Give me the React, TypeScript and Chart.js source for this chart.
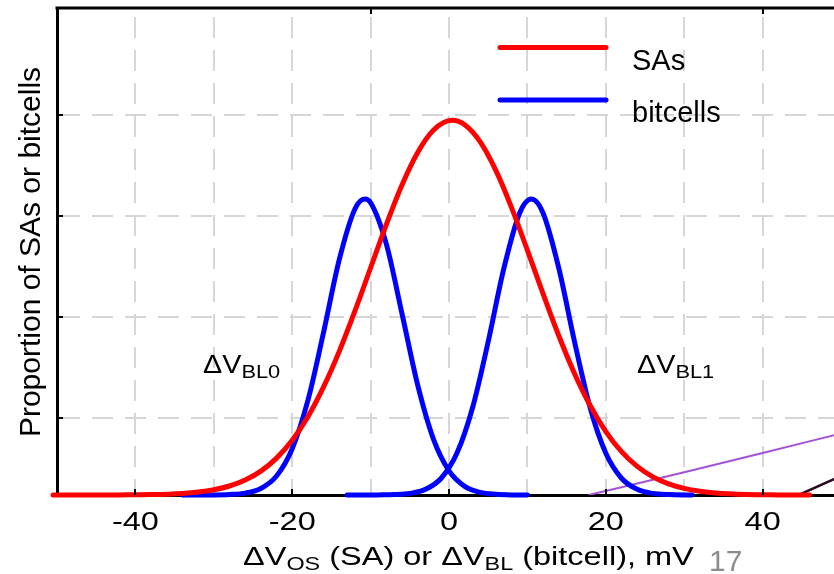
import { useEffect, useRef } from "react";
import { Chart, registerables } from "chart.js";

Chart.register(...registerables);

// Sense-amplifier offset distribution (ΔV_OS, mV) and its density
const SA_X = [-50.5, -46, -42, -38, -34, -32, -30, -28, -26, -24, -22, -20, -18, -16, -14, -12, -10, -8, -6, -4, -2, 0.4, 2, 4, 6, 8, 10, 12, 14, 16, 18, 20, 22, 24, 26, 28, 30, 32, 34, 38, 42, 46];
const SA_Y = [0, 0.0002, 0.001, 0.004, 0.016, 0.029, 0.052, 0.089, 0.148, 0.236, 0.365, 0.542, 0.775, 1.07, 1.422, 1.822, 2.25, 2.678, 3.07, 3.392, 3.612, 3.71, 3.666, 3.494, 3.209, 2.841, 2.423, 1.992, 1.577, 1.204, 0.886, 0.628, 0.429, 0.283, 0.179, 0.11, 0.065, 0.037, 0.02, 0.005, 0.001, 0];

// Bitcell swing when reading a 0 (ΔV_BL0)
const BL0_X = [-34, -30, -28, -26, -24, -22, -20, -18, -16, -14, -12, -10.75, -10, -8, -6, -4, -2, 0, 2, 4, 6, 8, 10];
const BL0_Y = [0, 0.001, 0.005, 0.019, 0.065, 0.188, 0.458, 0.936, 1.611, 2.33, 2.832, 2.93, 2.894, 2.486, 1.796, 1.09, 0.556, 0.239, 0.086, 0.026, 0.007, 0.001, 0];

// Bitcell swing when reading a 1 (ΔV_BL1)
const BL1_X = [-13, -11, -9, -7, -5, -3, -1, 1, 3, 5, 7, 9, 10.5, 12, 14, 16, 18, 20, 22, 24, 26, 28, 31];
const BL1_Y = [0, 0.0001, 0.001, 0.004, 0.016, 0.056, 0.166, 0.413, 0.864, 1.52, 2.246, 2.79, 2.93, 2.79, 2.246, 1.52, 0.864, 0.413, 0.166, 0.056, 0.016, 0.004, 0];

// Partly visible traces at the right edge
const TRACE_A_X = [17.8, 30, 40, 49.5];
const TRACE_A_Y = [0, 0.225, 0.415, 0.6];
const TRACE_B_X = [44.6, 49.5];
const TRACE_B_Y = [0, 0.17];

const X_MIN = -50;
const X_MAX = 49.1;
const Y_MIN = 0;
const Y_MAX = 4.822;
const X_GRID = [-40, -30, -20, -10, 0, 10, 20, 30, 40];
const X_TICK_LABELS = [-40, -20, 0, 20, 40];
const X_TOP_TICKS = [-10, 40];
const Y_GRID = [0.762, 1.762, 2.762, 3.762];

const LEGEND_NAMES = ["SAs", "bitcells"];
const RED = "#ff0000";
const BLUE = "#0000ff";
const FONT = '"Liberation Sans", Arial, Helvetica, sans-serif';
const AXIS_STRETCH = 1.3;

const pts = (xs: number[], ys: number[]) => xs.map((x, i) => ({ x, y: ys[i] }));

type Seg = { t: string; sub?: boolean };

function drawRich(ctx: CanvasRenderingContext2D, segs: Seg[], x: number, y: number, size: number, subSize: number, subDrop: number, sx: number) {
  let cx = x;
  for (const s of segs) {
    const fs = s.sub ? subSize : size;
    ctx.font = `${fs}px ${FONT}`;
    ctx.save();
    ctx.translate(cx, y + (s.sub ? subDrop : 0));
    ctx.scale(sx, 1);
    ctx.textAlign = "left";
    ctx.textBaseline = "alphabetic";
    ctx.fillText(s.t, 0, 0);
    ctx.restore();
    cx += ctx.measureText(s.t).width * sx;
  }
}

const decorPlugin = {
  id: "decor",
  afterDraw(chart: any) {
    const { ctx, chartArea } = chart;
    const xs = chart.scales.x;
    const ys = chart.scales.y;
    const { left, right, top, bottom } = chartArea;
    ctx.save();

    // top frame line
    ctx.strokeStyle = "#000";
    ctx.lineWidth = 3;
    ctx.beginPath();
    ctx.moveTo(left - 1.5, top);
    ctx.lineTo(right, top);
    ctx.stroke();

    // inward tick marks
    ctx.lineWidth = 2;
    ctx.beginPath();
    for (const v of X_TICK_LABELS) {
      const px = Math.round(xs.getPixelForValue(v));
      ctx.moveTo(px, bottom);
      ctx.lineTo(px, bottom - 6);
    }
    for (const v of X_TOP_TICKS) {
      const px = Math.round(xs.getPixelForValue(v));
      ctx.moveTo(px, top);
      ctx.lineTo(px, top + 6);
    }
    for (const v of Y_GRID) {
      const py = Math.round(ys.getPixelForValue(v));
      ctx.moveTo(left, py);
      ctx.lineTo(left + 6, py);
    }
    ctx.stroke();

    // x tick labels
    ctx.fillStyle = "#000";
    ctx.font = `25px ${FONT}`;
    ctx.textBaseline = "alphabetic";
    for (const v of X_TICK_LABELS) {
      const px = xs.getPixelForValue(v);
      ctx.save();
      ctx.translate(px, 530);
      ctx.scale(AXIS_STRETCH, 1);
      ctx.textAlign = "center";
      ctx.fillText(String(v), 0, 0);
      ctx.restore();
    }

    // x axis title
    drawRich(
      ctx,
      [
        { t: "ΔV" },
        { t: "OS", sub: true },
        { t: " (SA) or ΔV" },
        { t: "BL", sub: true },
        { t: " (bitcell), mV" },
      ],
      243,
      565,
      25,
      18,
      5,
      AXIS_STRETCH
    );

    // y axis title
    ctx.save();
    ctx.translate(40, 252);
    ctx.rotate(-Math.PI / 2);
    ctx.font = `30px ${FONT}`;
    ctx.textAlign = "center";
    ctx.textBaseline = "alphabetic";
    ctx.fillText("Proportion of SAs or bitcells", 0, 0);
    ctx.restore();

    // legend
    const legendColors = [RED, BLUE];
    const legendY = [47.5, 100];
    const legendTextY = [70, 122];
    ctx.lineCap = "round";
    ctx.lineWidth = 5;
    LEGEND_NAMES.forEach((name, i) => {
      ctx.strokeStyle = legendColors[i];
      ctx.beginPath();
      ctx.moveTo(500, legendY[i]);
      ctx.lineTo(606, legendY[i]);
      ctx.stroke();
      ctx.font = `29px ${FONT}`;
      ctx.textAlign = "left";
      ctx.fillStyle = "#000";
      ctx.fillText(name, 632, legendTextY[i]);
    });

    // curve annotations
    drawRich(ctx, [{ t: "ΔV" }, { t: "BL0", sub: true }], 203, 373, 25, 19, 5, 1.15);
    drawRich(ctx, [{ t: "ΔV" }, { t: "BL1", sub: true }], 637, 373, 25, 19, 5, 1.15);

    // page number
    ctx.fillStyle = "#8c8c8c";
    ctx.font = `30px ${FONT}`;
    ctx.textAlign = "left";
    ctx.fillText("17", 709, 571);

    ctx.restore();
  },
};

export default function App() {
  const ref = useRef<HTMLCanvasElement | null>(null);

  useEffect(() => {
    if (!ref.current) return;
    const chart = new Chart(ref.current, {
      type: "line",
      data: {
        datasets: [
          {
            label: LEGEND_NAMES[0],
            data: pts(SA_X, SA_Y),
            borderColor: RED,
            borderWidth: 5,
            cubicInterpolationMode: "monotone",
            borderCapStyle: "round",
            clip: false,
          },
          {
            label: LEGEND_NAMES[1],
            data: pts(BL0_X, BL0_Y),
            borderColor: BLUE,
            borderWidth: 5,
            cubicInterpolationMode: "monotone",
            borderCapStyle: "round",
            clip: false,
          },
          {
            label: LEGEND_NAMES[1],
            data: pts(BL1_X, BL1_Y),
            borderColor: BLUE,
            borderWidth: 5,
            cubicInterpolationMode: "monotone",
            borderCapStyle: "round",
            clip: false,
          },
          {
            label: "trace A",
            data: pts(TRACE_A_X, TRACE_A_Y),
            borderColor: "#a452d6",
            borderWidth: 2,
            cubicInterpolationMode: "monotone",
          },
          {
            label: "trace B",
            data: pts(TRACE_B_X, TRACE_B_Y),
            borderColor: "#2a0826",
            borderWidth: 2.5,
          },
        ] as any,
      },
      options: {
        animation: false,
        responsive: false,
        maintainAspectRatio: false,
        events: [],
        layout: { padding: { top: 8, left: 0, right: 0, bottom: 0 } },
        elements: { point: { radius: 0 } },
        plugins: { legend: { display: false }, tooltip: { enabled: false } },
        scales: {
          x: {
            type: "linear",
            min: X_MIN,
            max: X_MAX,
            afterBuildTicks: (s: any) => {
              s.ticks = X_GRID.map((v) => ({ value: v }));
            },
            afterFit: (s: any) => {
              s.height = 79;
            },
            ticks: { display: false },
            grid: { color: "#d6d6d6", lineWidth: 2, drawTicks: false },
            border: { display: true, color: "#000", width: 3, dash: [21, 12], dashOffset: 24 },
          },
          y: {
            type: "linear",
            min: Y_MIN,
            max: Y_MAX,
            afterBuildTicks: (s: any) => {
              s.ticks = Y_GRID.map((v) => ({ value: v }));
            },
            afterFit: (s: any) => {
              s.width = 57;
            },
            ticks: { display: false },
            grid: { color: "#d6d6d6", lineWidth: 2, drawTicks: false },
            border: { display: true, color: "#000", width: 3, dash: [21, 12], dashOffset: 0 },
          },
        },
      } as any,
      plugins: [decorPlugin],
    });
    return () => chart.destroy();
  }, []);

  return (
    <div style={{ position: "absolute", left: 0, top: 0, width: 834, height: 574, background: "#fff" }}>
      <canvas ref={ref} width={834} height={574} style={{ display: "block" }} />
    </div>
  );
}
